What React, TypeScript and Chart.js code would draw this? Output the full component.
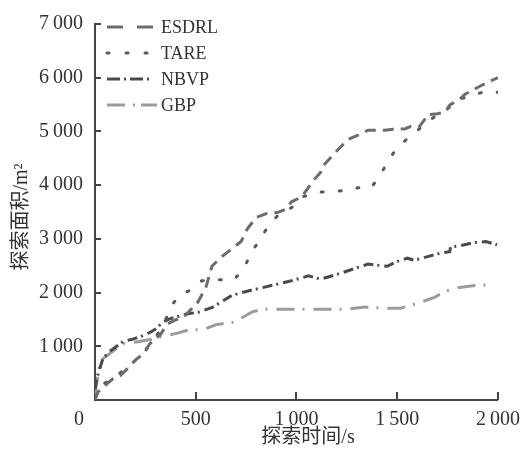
import React, { useEffect, useRef } from 'react';
import { Chart, registerables } from 'chart.js';

Chart.register(...registerables);

// ---------- data ----------
const seriesNames = ['ESDRL', 'TARE', 'NBVP', 'GBP'];

const esdrlT = [0, 15, 40, 90, 125, 165, 205, 245, 270, 325, 360, 400, 450, 510, 550, 580, 630, 680, 725, 755, 800, 850, 905, 945, 975, 1025, 1060, 1075, 1120, 1125, 1195, 1255, 1305, 1355, 1440, 1480, 1540, 1565, 1610, 1640, 1650, 1700, 1740, 1760, 1810, 1835, 1915, 1970, 2000];
const esdrlV = [0, 150, 240, 400, 450, 600, 760, 870, 1040, 1220, 1420, 1490, 1580, 1820, 2090, 2490, 2670, 2820, 2950, 3180, 3400, 3470, 3490, 3550, 3690, 3780, 3960, 4050, 4240, 4330, 4620, 4850, 4930, 5020, 5020, 5040, 5050, 5090, 5090, 5240, 5310, 5330, 5360, 5490, 5600, 5690, 5850, 5950, 6000];

const tareT = [0, 30, 80, 130, 180, 230, 280, 320, 345, 380, 420, 470, 530, 600, 690, 740, 775, 815, 860, 920, 975, 1025, 1120, 1215, 1305, 1370, 1415, 1450, 1490, 1545, 1610, 1650, 1700, 1760, 1810, 1880, 1940, 2000];
const tareV = [50, 280, 380, 520, 680, 820, 1090, 1270, 1450, 1760, 1950, 2040, 2220, 2240, 2240, 2450, 2750, 2960, 3240, 3490, 3580, 3780, 3870, 3890, 3950, 3950, 4180, 4420, 4650, 4850, 5050, 5180, 5310, 5450, 5600, 5690, 5740, 5730];

const nbvpT = [0, 10, 40, 75, 140, 185, 255, 305, 335, 370, 455, 520, 585, 680, 780, 830, 975, 1060, 1120, 1220, 1290, 1355, 1450, 1500, 1550, 1585, 1650, 1710, 1760, 1765, 1810, 1880, 1940, 1995];
const nbvpV = [200, 420, 780, 910, 1090, 1130, 1220, 1330, 1450, 1510, 1600, 1640, 1730, 1950, 2050, 2090, 2220, 2310, 2250, 2360, 2450, 2530, 2490, 2580, 2640, 2600, 2670, 2730, 2760, 2850, 2870, 2930, 2950, 2890];

const gbpT = [0, 25, 75, 140, 220, 280, 330, 405, 470, 535, 600, 630, 690, 780, 830, 960, 1060, 1170, 1245, 1340, 1440, 1515, 1565, 1615, 1685, 1735, 1800, 1885, 1980];
const gbpV = [100, 730, 870, 1050, 1090, 1130, 1180, 1240, 1310, 1310, 1400, 1420, 1450, 1640, 1690, 1690, 1690, 1690, 1690, 1730, 1710, 1710, 1760, 1820, 1910, 2020, 2090, 2130, 2150];

const xTicks = [0, 500, 1000, 1500, 2000];
const yTicks = [0, 1000, 2000, 3000, 4000, 5000, 6000, 7000];
const xTitle = '探索时间/s';
const yTitle = '探索面积/m²';
const originLabel = '0';

// ---------- styles ----------
const colors = ['#6c6c6c', '#595959', '#4a4a4a', '#9c9c9c'];
const dashes = [[11, 7], [2, 16], [10, 4, 2, 5], [18, 8, 2, 9]];
const legendDashes = [[16, 14], [2, 17], [13, 4, 2, 4], [18, 8, 2, 6]];
const legendEnds = [153, 148, 150, 157];
const caps: CanvasLineCap[] = ['butt', 'round', 'butt', 'butt'];
const serif = '"Liberation Serif", "Noto Sans CJK SC", serif';
const axisColor = '#444';
const textColor = '#333';

function fmt(v: number): string {
  if (v === 0) return '';
  const s = String(v);
  return s.length > 3 ? s.slice(0, -3) + '\u2009' + s.slice(-3) : s;
}

function pts(t: number[], v: number[]) {
  return t.map((x, i) => ({ x, y: v[i] }));
}

const decorPlugin = {
  id: 'decor',
  afterDraw(chart: any) {
    const ctx = chart.ctx as CanvasRenderingContext2D;
    const xs = chart.scales.x;
    const ys = chart.scales.y;
    const area = chart.chartArea;
    ctx.save();
    // inward ticks
    ctx.strokeStyle = axisColor;
    ctx.lineWidth = 2;
    ctx.setLineDash([]);
    xTicks.forEach((v) => {
      if (v === 0) return;
      const px = Math.round(xs.getPixelForValue(v));
      ctx.beginPath();
      ctx.moveTo(px, area.bottom);
      ctx.lineTo(px, area.bottom - 8);
      ctx.stroke();
    });
    yTicks.forEach((v) => {
      if (v === 0) return;
      const py = Math.round(ys.getPixelForValue(v));
      ctx.beginPath();
      ctx.moveTo(area.left, py);
      ctx.lineTo(area.left + 6, py);
      ctx.stroke();
    });
    // origin label
    ctx.fillStyle = textColor;
    ctx.font = '20px ' + serif;
    ctx.textAlign = 'center';
    ctx.textBaseline = 'middle';
    ctx.fillText(originLabel, area.left - 16, area.bottom + 20);
    // axis titles
    ctx.fillText(xTitle, 308, 438);
    ctx.save();
    ctx.translate(22, 217);
    ctx.rotate(-Math.PI / 2);
    ctx.fillText(yTitle, 0, 0);
    ctx.restore();
    // legend
    ctx.font = '18px ' + serif;
    ctx.textAlign = 'left';
    seriesNames.forEach((name, i) => {
      const y = 27 + i * 26;
      ctx.strokeStyle = colors[i];
      ctx.lineWidth = 3;
      ctx.lineCap = caps[i];
      ctx.setLineDash(legendDashes[i]);
      ctx.beginPath();
      ctx.moveTo(107, y);
      ctx.lineTo(legendEnds[i], y);
      ctx.stroke();
      ctx.setLineDash([]);
      ctx.fillStyle = textColor;
      ctx.fillText(name, 161, y + 1);
    });
    ctx.restore();
  },
};

export default function App() {
  const ref = useRef<HTMLCanvasElement | null>(null);
  useEffect(() => {
    if (!ref.current) return;
    const series = [pts(esdrlT, esdrlV), pts(tareT, tareV), pts(nbvpT, nbvpV), pts(gbpT, gbpV)];
    const chart = new Chart(ref.current, {
      type: 'line',
      data: {
        datasets: seriesNames.map((name, i) => ({
          label: name,
          data: series[i],
          borderColor: colors[i],
          borderWidth: 3,
          borderDash: dashes[i],
          borderCapStyle: caps[i],
          pointRadius: 0,
          tension: 0,
          fill: false,
        })),
      },
      options: {
        animation: false,
        responsive: false,
        devicePixelRatio: 1,
        layout: { padding: { left: 0, right: 27, top: 15, bottom: 0 } },
        plugins: { legend: { display: false }, tooltip: { enabled: false } },
        scales: {
          x: {
            type: 'linear',
            min: 0,
            max: 2000,
            afterFit: (s: any) => { s.height = 59; },
            afterBuildTicks: (s: any) => { s.ticks = xTicks.map((v) => ({ value: v })); },
            grid: { display: false, drawTicks: false },
            border: { display: true, color: axisColor, width: 2 },
            ticks: {
              padding: 8,
              color: textColor,
              font: { family: serif, size: 20 },
              maxRotation: 0,
              callback: (v: any) => fmt(Number(v)),
            },
          },
          y: {
            type: 'linear',
            min: 0,
            max: 7000,
            afterFit: (s: any) => { s.width = 95; },
            afterBuildTicks: (s: any) => { s.ticks = yTicks.map((v) => ({ value: v })); },
            grid: { display: false, drawTicks: false },
            border: { display: true, color: axisColor, width: 2 },
            ticks: {
              padding: 12,
              color: textColor,
              font: { family: serif, size: 20 },
              callback: (v: any) => fmt(Number(v)),
            },
          },
        },
      },
      plugins: [decorPlugin],
    });
    return () => chart.destroy();
  }, []);
  return (
    <div style={{ position: 'absolute', left: 0, top: 0, width: 528, height: 459, background: '#fff' }}>
      <canvas ref={ref} width={528} height={459} style={{ width: 528, height: 459, display: 'block' }} />
    </div>
  );
}
